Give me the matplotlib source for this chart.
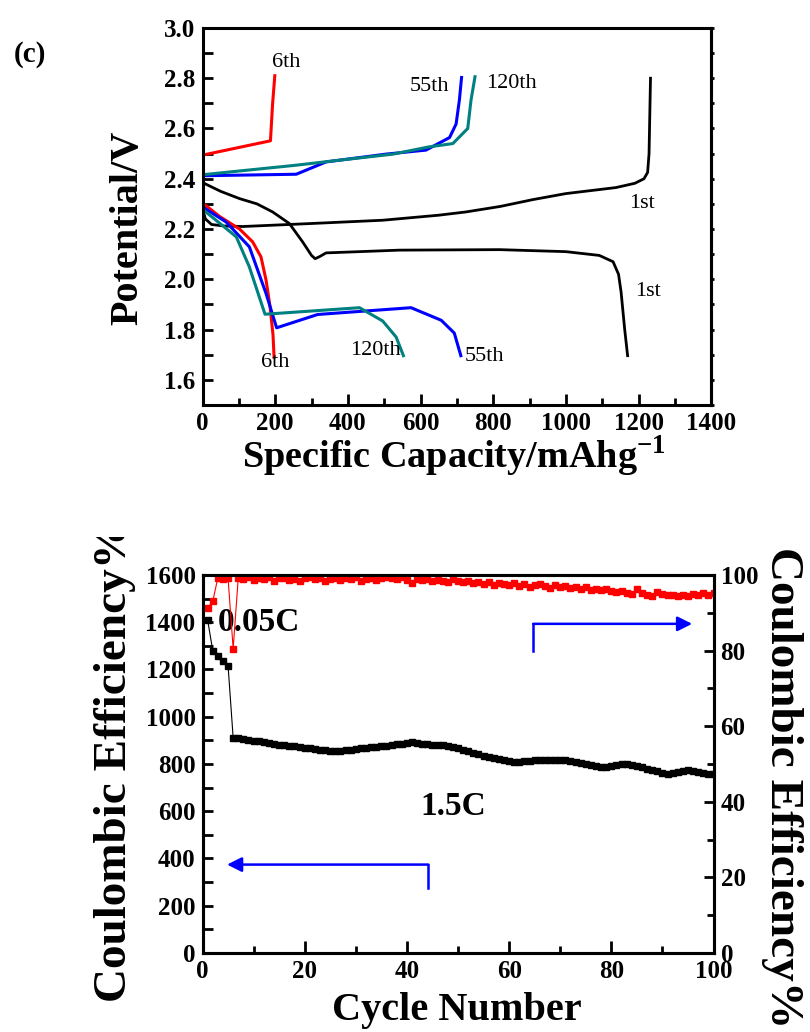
import matplotlib
matplotlib.use("Agg")
import matplotlib.pyplot as plt
import numpy as np
from matplotlib.ticker import MultipleLocator
from matplotlib.transforms import Bbox, TransformedBbox

plt.rcParams['font.family'] = ['Liberation Serif', 'DejaVu Serif']
plt.rcParams['font.weight'] = 'bold'
plt.rcParams['mathtext.fontset'] = 'custom'
plt.rcParams['mathtext.rm'] = 'Liberation Serif:bold'
plt.rcParams['mathtext.bf'] = 'Liberation Serif:bold'
plt.rcParams['axes.linewidth'] = 2.2

# --- charge/discharge curves (capacity mAh/g, potential V) ---
first_dis_x = [0, 50, 102, 150, 193, 239, 275, 300, 310, 322, 340, 542, 817, 1000, 1092, 1130, 1145, 1152, 1162, 1170]
first_dis_y = [2.385, 2.35, 2.321, 2.30, 2.268, 2.222, 2.15, 2.095, 2.082, 2.09, 2.105, 2.116, 2.118, 2.11, 2.095, 2.07, 2.02, 1.95, 1.80, 1.696]
first_chg_x = [0, 8, 25, 60, 111, 300, 496, 650, 725, 820, 909, 1000, 1138, 1190, 1215, 1225, 1229, 1231, 1233]
first_chg_y = [2.28, 2.24, 2.218, 2.212, 2.21, 2.222, 2.235, 2.255, 2.268, 2.29, 2.317, 2.341, 2.365, 2.382, 2.40, 2.425, 2.50, 2.65, 2.80]

c6_chg_x = [0, 187, 193, 199]
c6_chg_y = [2.494, 2.551, 2.70, 2.81]
c6_dis_x = [0, 47, 102, 138, 161, 175, 186, 194, 197]
c6_dis_y = [2.304, 2.25, 2.20, 2.149, 2.089, 1.996, 1.89, 1.78, 1.69]

c55_chg_x = [0, 258, 340, 505, 615, 680, 698, 707, 713]
c55_chg_y = [2.412, 2.418, 2.467, 2.498, 2.514, 2.564, 2.618, 2.713, 2.803]
c55_dis_x = [0, 65, 129, 175, 204, 317, 574, 657, 693, 711]
c55_dis_y = [2.288, 2.228, 2.129, 1.943, 1.807, 1.86, 1.887, 1.837, 1.786, 1.696]

c120_chg_x = [0, 258, 359, 524, 624, 689, 730, 739, 750]
c120_chg_y = [2.416, 2.454, 2.471, 2.498, 2.527, 2.54, 2.60, 2.713, 2.806]
c120_dis_x = [0, 93, 129, 172, 432, 496, 533, 553]
c120_dis_y = [2.279, 2.169, 2.049, 1.861, 1.887, 1.834, 1.770, 1.696]

# --- cycling data ---
cycles = np.arange(1, 101)
capacity = [1410, 1280, 1258, 1234, 1216, 910, 908, 905, 903, 899,
            896, 893, 889, 886, 882, 879, 877, 874, 872, 869,
            866, 863, 860, 857, 855, 853, 856, 858, 861, 863,
            866, 868, 870, 873, 875, 878, 880, 883, 886, 888,
            891, 889, 886, 884, 882, 880, 879, 877, 872, 866,
            860, 853, 847, 840, 834, 830, 826, 821, 816, 812,
            808, 810, 811, 813, 815, 816, 817, 816, 816, 815,
            815, 812, 808, 804, 800, 796, 792, 789, 787, 791,
            795, 799, 801, 797, 791, 786, 780, 774, 768, 762,
            756, 761, 766, 770, 773, 769, 765, 762, 759, 756]
efficiency = [91.3, 93.0, 99.2, 99.0, 99.1, 80.5, 99.3, 98.8, 99.4, 98.6,
              99.2, 98.9, 99.5, 98.4, 99.1, 99.3, 98.7, 99.0, 98.5, 99.2,
              99.4, 98.8, 99.1, 98.3, 99.0, 99.3, 98.6, 99.2, 98.9, 99.4,
              98.5, 99.0, 99.2, 98.7, 99.3, 99.5, 99.1, 98.9, 99.4, 98.6,
              97.9, 98.9, 98.6, 98.8, 98.4, 98.7, 98.5, 98.0, 98.9, 98.3,
              98.1, 98.4, 97.8, 98.2, 97.6, 98.0, 97.4, 97.9, 97.7, 97.3,
              97.8, 97.2, 97.6, 96.9, 97.4, 97.7, 97.0, 96.6, 97.3, 96.8,
              97.1, 96.5, 96.9, 96.3, 96.7, 96.0, 96.4, 95.9, 96.2, 95.7,
              95.4, 95.8, 95.2, 94.9, 96.3, 95.1, 94.6, 94.3, 95.5, 94.9,
              94.6, 94.8, 94.4, 94.7, 94.5, 95.0, 94.8, 95.1, 94.6, 95.3]

teal = '#008080'
fig = plt.figure(figsize=(8.1, 10.32), dpi=100)

# ---------------- top panel ----------------
ax1 = fig.add_axes([0.25, 0.6076, 0.628, 0.3653])
ax1.plot(first_dis_x, first_dis_y, color='k', lw=2.0)
ax1.plot(first_chg_x, first_chg_y, color='k', lw=2.0)
ax1.plot(c6_chg_x, c6_chg_y, color='red', lw=2.2)
ax1.plot(c6_dis_x, c6_dis_y, color='red', lw=2.2)
ax1.plot(c55_chg_x, c55_chg_y, color='blue', lw=2.2)
ax1.plot(c55_dis_x, c55_dis_y, color='blue', lw=2.2)
ax1.plot(c120_chg_x, c120_chg_y, color=teal, lw=2.2)
ax1.plot(c120_dis_x, c120_dis_y, color=teal, lw=2.2)

ax1.set_xlim(0, 1400)
ax1.set_ylim(1.5, 3.0)
ax1.xaxis.set_major_locator(MultipleLocator(200))
ax1.xaxis.set_minor_locator(MultipleLocator(100))
ax1.yaxis.set_major_locator(MultipleLocator(0.2))
ax1.yaxis.set_minor_locator(MultipleLocator(0.1))
ax1.yaxis.set_major_formatter(lambda v, p: f"{v:.1f}")
ax1.tick_params(which='both', direction='in', top=False, right=False, labelsize=18, width=2, pad=5)
ax1.tick_params(axis='y', which='both', length=7)
ax1.tick_params(axis='x', which='major', length=8)
ax1.tick_params(axis='x', which='minor', length=5)
sec = ax1.secondary_yaxis('right')
sec.yaxis.set_major_locator(MultipleLocator(0.1))
sec.tick_params(direction='out', length=2, width=2, labelright=False)

lab = dict(fontsize=16, fontweight='normal', ha='center', va='center')
ax1.text(231, 2.862, '6th', **lab)
ax1.text(625, 2.767, '55th', **lab)
ax1.text(851, 2.78, '120th', **lab)
ax1.text(1209, 2.30, '1st', **lab)
ax1.text(1226, 1.953, '1st', **lab)
ax1.text(477, 1.715, '120th', **lab)
ax1.text(201, 1.668, '6th', **lab)
ax1.text(777, 1.692, '55th', **lab)

fig.text(0.037, 0.947, '(c)', fontsize=21, ha='center', va='center')
fig.text(0.158, 0.779, 'Potential/V', fontsize=29, rotation=90, ha='center', va='center')
fig.text(0.56, 0.558, r'Specific Capacity/mAhg$^{-1}$', fontsize=27.5, ha='center', va='center')

# ---------------- bottom panel ----------------
ax2 = fig.add_axes([0.25, 0.0766, 0.631, 0.3663])
ax2.plot(cycles, capacity, 's-', color='k', ms=3.8, lw=0.8)
ax3 = ax2.twinx()
ax3.plot(cycles, efficiency, 's-', color='red', ms=3.8, lw=0.8)

ax2.set_xlim(0, 100)
ax2.set_ylim(0, 1600)
ax3.set_ylim(0, 100)
ax2.xaxis.set_major_locator(MultipleLocator(20))
ax2.xaxis.set_minor_locator(MultipleLocator(10))
ax2.yaxis.set_major_locator(MultipleLocator(200))
ax2.yaxis.set_minor_locator(MultipleLocator(100))
ax3.yaxis.set_major_locator(MultipleLocator(20))
ax3.yaxis.set_minor_locator(MultipleLocator(10))
ax2.tick_params(which='both', direction='in', top=False, right=False, labelsize=18, width=2, pad=5)
ax2.tick_params(axis='y', which='both', length=7)
ax2.tick_params(axis='x', which='major', length=9)
ax2.tick_params(axis='x', which='minor', length=5)
ax3.tick_params(which='both', direction='in', labelsize=18, width=2, pad=5)
ax3.tick_params(which='major', length=7)
ax3.tick_params(which='minor', length=5)

ax2.text(11, 1400, '0.05C', fontsize=24, ha='center', va='center')
ax2.text(49, 620, '1.5C', fontsize=24, ha='center', va='center')

ax2.plot([44.2, 44.2], [277, 374], color='blue', lw=1.8)
ax2.annotate('', xy=(4.8, 374), xytext=(44.2, 374),
             arrowprops=dict(arrowstyle='-|>', color='blue', lw=1.8, mutation_scale=22,
                             shrinkA=0, shrinkB=0))
ax2.plot([64.7, 64.7], [1276, 1393], color='blue', lw=1.8)
ax2.annotate('', xy=(95.8, 1393), xytext=(64.7, 1393),
             arrowprops=dict(arrowstyle='-|>', color='blue', lw=1.8, mutation_scale=22,
                             shrinkA=0, shrinkB=0))

fig.text(0.564, 0.021, 'Cycle Number', fontsize=29, ha='center', va='center')
t = fig.text(0.142, 0.262, 'Coulombic Efficiency%', fontsize=34, rotation=90, ha='center', va='center')
t.set_clip_box(TransformedBbox(Bbox.from_extents(0, 0, 1, 0.4797), fig.transFigure))
t.set_clip_on(True)
fig.text(0.965, 0.237, 'Coulombic Efficiency%', fontsize=34, rotation=-90, ha='center', va='center')

fig.savefig('out.png', dpi=100)
